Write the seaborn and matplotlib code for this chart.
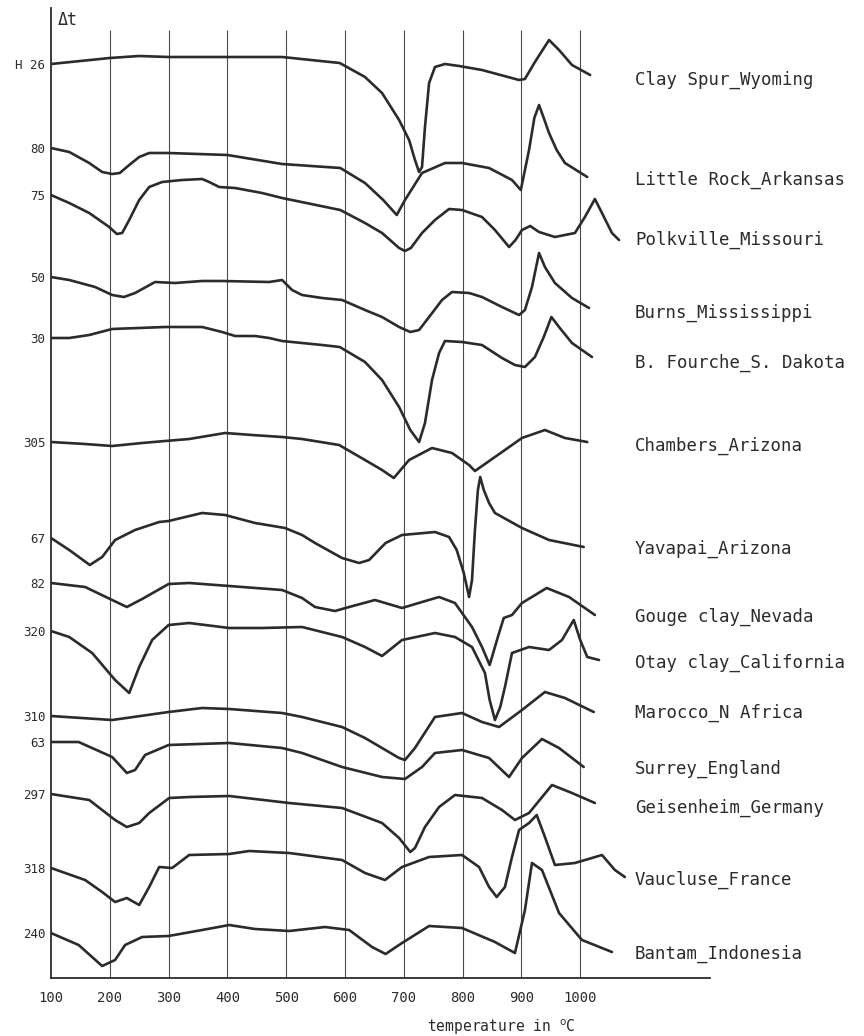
import numpy as np
import pandas as pd
import matplotlib
matplotlib.use("Agg")
import matplotlib.pyplot as plt
import seaborn as sns

# ---- data: temperature (°C) and trace position (plot units, downward) ----
t_clay_spur = [100,150,200,250,300,400,493,591,634,663,692,709,719,726,731,736,743,753,770,794,833,896,906,923,947,964,986,1017]
y_clay_spur = [64,61,58,56,57,57,57,63,77,93,120,140,160,172,167,127,83,67,64,66,70,80,79,62,40,50,65,75]

t_little_rock = [100,131,165,187,204,217,233,250,267,300,400,493,592,634,665,688,702,731,770,799,845,884,899,913,922,930,938,947,960,974,1012]
y_little_rock = [148,152,163,172,174,173,165,157,153,153,155,164,168,183,200,215,200,173,163,163,168,180,190,150,118,105,118,133,150,163,177]

t_polkville = [100,131,165,199,212,221,233,250,267,289,323,357,369,386,413,459,493,592,634,663,692,702,712,731,753,777,799,833,855,879,890,901,915,930,957,991,1008,1025,1037,1054,1066]
y_polkville = [195,203,213,227,234,233,220,200,187,182,180,179,182,187,188,193,198,210,223,233,248,251,248,233,220,209,210,217,230,247,240,230,226,232,237,233,217,199,213,233,240]

t_burns = [100,131,175,204,224,243,277,311,357,391,471,493,510,527,561,595,634,663,692,711,726,743,765,782,811,833,867,896,906,918,930,940,957,986,1015]
y_burns = [277,280,287,295,297,293,282,283,281,281,282,280,290,295,298,300,310,317,327,332,330,317,300,292,293,297,307,315,310,287,253,267,283,298,308]

t_fourche = [100,131,165,204,294,357,391,413,447,471,493,527,561,591,634,663,692,711,726,736,748,760,770,799,833,867,889,906,923,938,951,964,986,1020]
y_fourche = [338,338,335,329,327,327,332,336,336,338,341,343,345,347,362,380,407,430,442,423,380,353,341,342,345,358,365,367,357,337,317,327,343,357]

t_chambers = [100,158,204,255,294,335,396,442,493,527,590,634,663,683,709,748,782,811,821,855,901,940,974,1012]
y_chambers = [442,444,446,443,441,439,433,435,437,439,445,460,470,478,460,448,453,465,471,457,438,430,438,442]

t_yavapai = [100,131,166,187,209,243,284,300,357,396,447,498,527,549,595,624,641,669,697,753,777,790,802,811,816,821,826,830,836,845,855,901,947,1006]
y_yavapai = [538,550,565,557,540,530,522,521,513,515,523,528,535,543,558,563,560,543,535,532,537,550,573,597,580,530,490,477,490,503,513,528,540,547]

t_gouge = [100,158,204,229,255,300,335,403,493,527,549,583,607,651,697,731,760,787,816,833,846,862,870,884,901,943,981,1025]
y_gouge = [583,587,600,607,599,584,583,586,590,598,607,611,607,600,608,602,597,603,627,647,665,633,618,615,603,588,597,615]

t_otay = [100,131,170,209,233,250,272,300,335,403,459,527,595,634,663,697,753,787,816,838,846,855,864,872,884,913,947,969,989,1000,1012,1032]
y_otay = [631,637,653,680,693,667,640,625,623,628,628,627,637,647,656,640,633,637,647,673,700,720,707,687,653,647,650,640,620,640,657,660]

t_marocco = [100,204,300,357,403,493,527,595,634,663,692,702,719,753,799,833,862,901,940,974,1023]
y_marocco = [716,720,712,708,709,713,717,727,738,748,758,760,748,717,713,722,727,710,692,698,712]

t_surrey = [100,147,204,229,243,260,300,403,493,527,595,663,702,731,753,799,845,879,901,935,964,1006]
y_surrey = [742,742,757,773,770,755,745,743,748,753,767,777,779,767,753,750,758,777,758,739,748,767]

t_geisenheim = [100,165,209,229,250,267,301,335,403,505,595,663,692,711,719,736,760,787,833,867,889,913,952,986,1025]
y_geisenheim = [794,800,820,827,823,813,798,797,796,803,808,823,838,852,848,827,807,795,798,810,820,813,785,793,803]

t_vaucluse = [100,158,187,209,229,250,267,284,306,335,403,437,505,595,634,668,697,743,799,828,845,858,872,884,896,913,926,940,957,991,1037,1059,1076]
y_vaucluse = [868,880,892,902,898,905,887,867,868,855,854,851,853,860,873,880,867,857,855,867,887,897,887,857,830,823,815,837,865,863,855,870,877]

t_bantam = [100,147,187,209,226,255,300,357,403,447,505,566,607,646,669,697,743,799,855,889,906,918,935,964,1003,1054]
y_bantam = [933,945,966,960,945,937,936,930,925,929,931,927,930,947,954,943,926,928,942,953,910,863,870,913,940,952]

sample_names = ["Clay Spur_Wyoming", "Little Rock_Arkansas", "Polkville_Missouri",
                "Burns_Mississippi", "B. Fourche_S. Dakota", "Chambers_Arizona",
                "Yavapai_Arizona", "Gouge clay_Nevada", "Otay clay_California",
                "Marocco_N Africa", "Surrey_England", "Geisenheim_Germany",
                "Vaucluse_France", "Bantam_Indonesia"]
sample_codes = ["H 26", "80", "75", "50", "30", "305", "67", "82", "320", "310",
                "63", "297", "318", "240"]
name_label_y = [80, 180, 240, 313, 363, 446, 549, 617, 663, 713, 769, 808, 880, 954]
x_tick_values = [100, 200, 300, 400, 500, 600, 700, 800, 900, 1000]

temps = [t_clay_spur, t_little_rock, t_polkville, t_burns, t_fourche, t_chambers,
         t_yavapai, t_gouge, t_otay, t_marocco, t_surrey, t_geisenheim, t_vaucluse, t_bantam]
traces = [y_clay_spur, y_little_rock, y_polkville, y_burns, y_fourche, y_chambers,
          y_yavapai, y_gouge, y_otay, y_marocco, y_surrey, y_geisenheim, y_vaucluse, y_bantam]

rows = []
for name, tt, yy in zip(sample_names, temps, traces):
    for i, (a, b) in enumerate(zip(tt, yy)):
        rows.append({"sample": name, "order": i, "T": a, "y": b})
df = pd.DataFrame(rows)

# ---- figure ----
sns.set_theme(style="white")
plt.rcParams["font.family"] = ["DejaVu Sans Mono", "DejaVu Sans"]
ink = "#2b2b2b"

fig = plt.figure(figsize=(8.64, 10.36), dpi=100)
fig.patch.set_facecolor("white")
px_per_deg = 0.588
ax = fig.add_axes([51/864, 58/1036, (710-51)/864, (978-8)/1036])
ax.set_facecolor("white")

# grid lines
ax.vlines(x_tick_values[1:], 30, 978, color="#4a4a4a", lw=0.8, zorder=1)

sns.lineplot(data=df, x="T", y="y", hue="sample", units="sample", estimator=None,
             sort=False, palette=[ink]*len(sample_names), legend=False,
             lw=1.9, ax=ax, zorder=3)
for line in ax.get_lines():
    line.set_solid_joinstyle("round")
    line.set_solid_capstyle("round")

ax.set_xlim(100, 100 + (710-51)/px_per_deg)
ax.set_ylim(978, 8)
for s in ["top", "right"]:
    ax.spines[s].set_visible(False)
for s in ["left", "bottom"]:
    ax.spines[s].set_color(ink)
    ax.spines[s].set_linewidth(1.3)

ax.set_xticks(x_tick_values)
ax.set_xticklabels([str(v) for v in x_tick_values], fontsize=10, color=ink)
ax.set_yticks([yy[0] for yy in traces])
ax.set_yticklabels(sample_codes, fontsize=9, color=ink)
ax.tick_params(axis="x", length=0, pad=9)
ax.tick_params(axis="y", length=0, pad=4)
ax.set_xlabel("")
ax.set_ylabel("")

ax.text(112, 20, "Δt", fontsize=12, color=ink, va="center", ha="left")

for name, ly in zip(sample_names, name_label_y):
    ax.text(100 + (635-51)/px_per_deg, ly, name, fontsize=12.5, color=ink,
            va="center", ha="left", clip_on=False)

ax.text(100 + (427-51)/px_per_deg, 1027, r"temperature in $^{\mathrm{o}}$C",
        fontsize=10.5, color=ink, va="center", ha="left", clip_on=False)

fig.savefig("out.png", dpi=100, facecolor="white")
